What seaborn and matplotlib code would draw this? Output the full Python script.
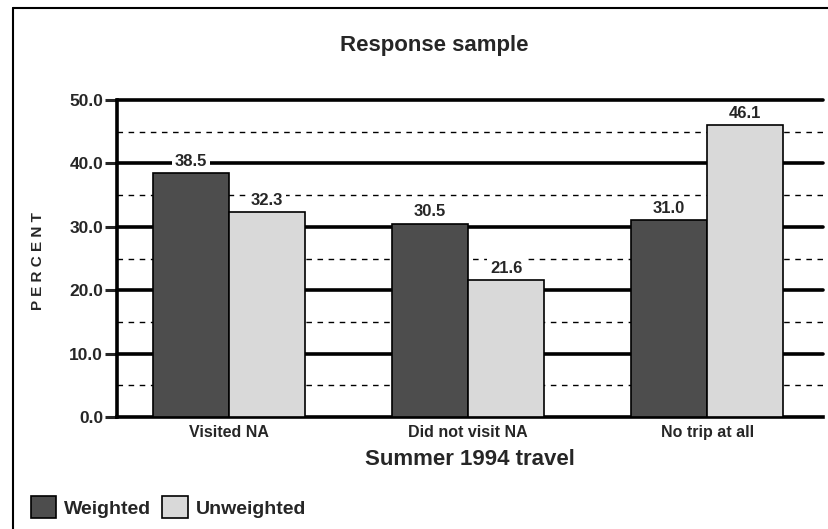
import matplotlib
matplotlib.use("Agg")
import matplotlib.pyplot as plt
import matplotlib.patches as mpatches
import seaborn as sns
import pandas as pd

categories = ["Visited NA", "Did not visit NA", "No trip at all"]
weighted = [38.5, 30.5, 31.0]
unweighted = [32.3, 21.6, 46.1]
series = ["Weighted", "Unweighted"]
colors = ["#4d4d4d", "#d9d9d9"]

df = pd.DataFrame({
    "travel": categories * 2,
    "percent": weighted + unweighted,
    "sample": [series[0]] * 3 + [series[1]] * 3,
})

sns.set_theme(style="white")
plt.rcParams["font.family"] = ["Liberation Sans", "DejaVu Sans"]
plt.rcParams["font.weight"] = "bold"

fig = plt.figure(figsize=(8.29, 5.29), dpi=100)
W, H = 829, 529
ax = fig.add_axes([117 / W, 1 - 417 / H, (823 - 117) / W, (417 - 100) / H])

sns.barplot(data=df, x="travel", y="percent", hue="sample", palette=colors,
            edgecolor="black", linewidth=1.2, width=0.636, legend=False,
            ax=ax, zorder=3)

ax.set_ylim(0, 50)
ax.set_xlim(-0.469, 2.485)

# gridlines: solid at 10s, dashed at 5s
for y in [10, 20, 30, 40, 50]:
    ax.axhline(y, color="black", lw=2.6, zorder=1, clip_on=False)
for y in [5, 15, 25, 35, 45]:
    ax.axhline(y, color="black", lw=1.0, ls=(0, (4, 4)), zorder=1)

ax.set_yticks([0, 10, 20, 30, 40, 50])
ax.set_yticklabels([f"{v:.1f}" for v in [0, 10, 20, 30, 40, 50]],
                   fontsize=12.5, fontweight="bold")
ax.tick_params(axis="y", length=9, width=2.2, direction="out", left=True, pad=1)
ax.tick_params(axis="x", length=0, pad=6)
for lab in ax.get_xticklabels():
    lab.set_fontsize(11.5)
    lab.set_fontweight("bold")

for s in ["top", "right"]:
    ax.spines[s].set_visible(False)
ax.spines["left"].set_linewidth(2.6)
ax.spines["bottom"].set_linewidth(2.6)
ax.spines["left"].set_color("black")
ax.spines["bottom"].set_color("black")

for cont in ax.containers:
    ax.bar_label(cont, fmt="%.1f", padding=3, fontsize=12, fontweight="bold",
                 bbox=dict(facecolor="white", edgecolor="none", pad=2), zorder=4)

ax.set_xlabel("Summer 1994 travel", fontsize=16, fontweight="bold", labelpad=6)
ax.set_ylabel("")
fig.text(38 / W, 1 - 261 / H, "P E R C E N T", rotation=90, fontsize=11,
         fontweight="bold", ha="center", va="center")
fig.text(434 / W, 1 - 45 / H, "Response sample", fontsize=16,
         fontweight="bold", ha="center", va="center")

handles = [mpatches.Patch(facecolor=c, edgecolor="black", lw=1.2, label=s)
           for c, s in zip(colors, series)]
fig.legend(handles=handles, loc="center left", bbox_to_anchor=(13 / W, 1 - 507 / H),
           ncol=2, frameon=False, handlelength=1.3, handleheight=1.3,
           handletextpad=0.4, columnspacing=0.6,
           prop={"size": 14, "weight": "bold"})

# figure frame (top and left edges visible)
fig.add_artist(plt.Line2D([13 / W, 13 / W], [0, 1 - 8 / H], color="black", lw=1.5,
                          transform=fig.transFigure))
fig.add_artist(plt.Line2D([13 / W, 1], [1 - 8 / H, 1 - 8 / H], color="black", lw=1.5,
                          transform=fig.transFigure))

fig.savefig("out.png", dpi=100)
